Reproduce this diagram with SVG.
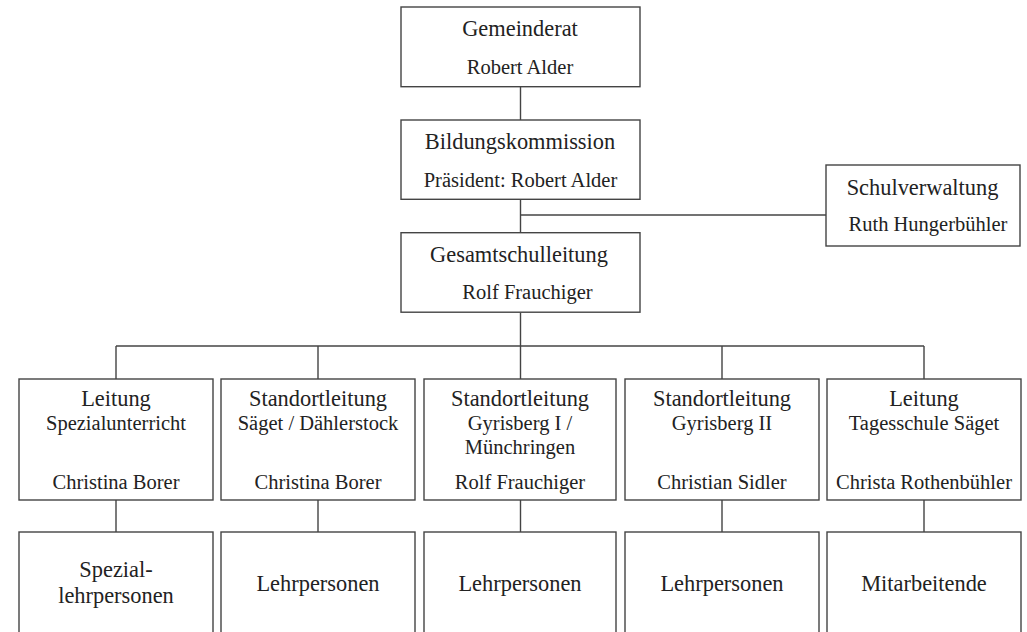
<svg xmlns="http://www.w3.org/2000/svg" width="1027" height="632" viewBox="0 0 1027 632">
<style>
.box{fill:#fff;stroke:#444;stroke-width:1.4}
.ln{stroke:#444;stroke-width:1.4;fill:none}
text{fill:#222;text-anchor:middle}
.t{font-size:22.4px}
.s{font-size:20.5px}
</style>
<rect width="1027" height="632" fill="#fff"/>
<g id="connectors">
<path class="ln" d="M520.5 86.7V120"/>
<path class="ln" d="M520.5 199.3V232.7"/>
<path class="ln" d="M520.5 215H826"/>
<path class="ln" d="M520.5 312.7V346"/>
<path class="ln" d="M116 346H924"/>
<path class="ln" d="M116 346V379M318 346V379M520.5 346V379M722 346V379M924 346V379"/>
<path class="ln" d="M116 500V532M318 500V532M520.5 500V532M722 500V532M924 500V532"/>
</g>
<g font-family="'Liberation Serif', 'Tinos', 'DejaVu Serif', serif">
<g id="gemeinderat">
<rect class="box" x="401" y="7" width="239" height="79.7"/>
<text class="t" x="520" y="36">Gemeinderat</text>
<text class="s" x="520" y="74">Robert Alder</text>
</g>
<g id="bildungskommission">
<rect class="box" x="401" y="120" width="239" height="79.3"/>
<text class="t" x="520" y="149">Bildungskommission</text>
<text class="s" x="520.5" y="186.5">Präsident: Robert Alder</text>
</g>
<g id="schulverwaltung">
<rect class="box" x="826" y="165" width="194" height="81"/>
<text class="t" x="922.5" y="195">Schulverwaltung</text>
<text class="s" x="928" y="230.5">Ruth Hungerbühler</text>
</g>
<g id="gesamtschulleitung">
<rect class="box" x="401" y="232.7" width="239" height="79.5"/>
<text class="t" x="519" y="261.5">Gesamtschulleitung</text>
<text class="s" x="527.5" y="299">Rolf Frauchiger</text>
</g>
<g id="leitung-spezial">
<rect class="box" x="19" y="379" width="194" height="121"/>
<text class="t" x="116" y="405.5">Leitung</text>
<text class="s" x="116" y="430">Spezialunterricht</text>
<text class="s" x="116" y="488.5">Christina Borer</text>
</g>
<g id="standort-saeget">
<rect class="box" x="221" y="379" width="194" height="121"/>
<text class="t" x="318" y="405.5">Standortleitung</text>
<text class="s" x="318" y="430">Säget / Dählerstock</text>
<text class="s" x="318" y="488.5">Christina Borer</text>
</g>
<g id="standort-gyrisberg1">
<rect class="box" x="424" y="379" width="192" height="121"/>
<text class="t" x="520" y="405.5">Standortleitung</text>
<text class="s" x="520" y="430">Gyrisberg I /</text>
<text class="s" x="520" y="454">Münchringen</text>
<text class="s" x="520" y="488.5">Rolf Frauchiger</text>
</g>
<g id="standort-gyrisberg2">
<rect class="box" x="625" y="379" width="194" height="121"/>
<text class="t" x="722" y="405.5">Standortleitung</text>
<text class="s" x="722" y="430">Gyrisberg II</text>
<text class="s" x="722" y="488.5">Christian Sidler</text>
</g>
<g id="leitung-tagesschule">
<rect class="box" x="827" y="379" width="194" height="121"/>
<text class="t" x="924" y="405.5">Leitung</text>
<text class="s" x="924" y="430">Tagesschule Säget</text>
<text class="s" x="924" y="488.5">Christa Rothenbühler</text>
</g>
<g id="spezial-lehrpersonen">
<rect class="box" x="19" y="532" width="194" height="120"/>
<text class="t" x="116" y="576.7">Spezial-</text>
<text class="t" x="116" y="603.3">lehrpersonen</text>
</g>
<g id="lehrpersonen-saeget">
<rect class="box" x="221" y="532" width="194" height="120"/>
<text class="t" x="318" y="590.7">Lehrpersonen</text>
</g>
<g id="lehrpersonen-gyrisberg1">
<rect class="box" x="424" y="532" width="192" height="120"/>
<text class="t" x="520" y="590.7">Lehrpersonen</text>
</g>
<g id="lehrpersonen-gyrisberg2">
<rect class="box" x="625" y="532" width="194" height="120"/>
<text class="t" x="722" y="590.7">Lehrpersonen</text>
</g>
<g id="mitarbeitende">
<rect class="box" x="827" y="532" width="194" height="120"/>
<text class="t" x="924" y="590.7">Mitarbeitende</text>
</g>
</g>
</svg>
